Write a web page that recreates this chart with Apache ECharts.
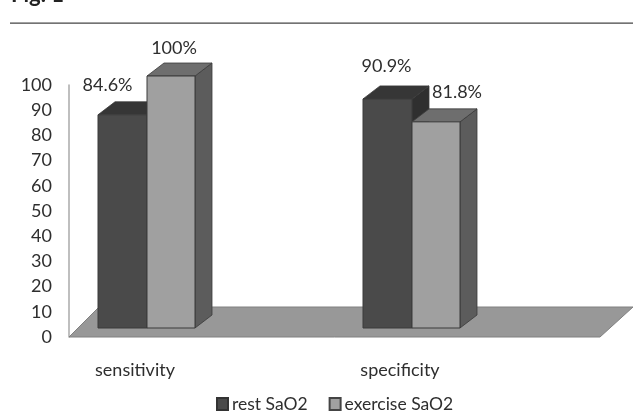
<!DOCTYPE html>
<html><head><meta charset="utf-8">
<style>html,body{margin:0;padding:0;background:#fff}#c{width:633px;height:411px;filter:blur(0.45px)}</style>
<script src="https://cdn.jsdelivr.net/npm/echarts@6/dist/echarts.min.js"></script>
</head><body><div id="c"></div>
<script>
const categories = ['sensitivity', 'specificity'];
const restSaO2 = [84.6, 90.9];
const exerciseSaO2 = [100, 81.8];
const yTicks = [0, 10, 20, 30, 40, 50, 60, 70, 80, 90, 100];
const seriesNames = ['rest SaO2', 'exercise SaO2'];
const restLabelShift = [[-15, -30], [-1, -33]];
const exerciseLabelShift = [[3, -28], [21, -30]];

const FONT = 'Lato, "Open Sans", sans-serif';
const TEXT = '#2e2e2e';
const DX = 17, DY = -13, LIFT = 9;

function barRenderer(x0, x1, front, top, side, shifts) {
  return function (params, api) {
    const i = api.value(0);
    const p = api.coord([i, api.value(1)]);
    const base = api.coord([i, 0]);
    const l = p[0] + x0, r = p[0] + x1, t = p[1] - LIFT, b = base[1] - LIFT;
    const s = shifts[params.dataIndex];
    const stroke = '#3a3a3a';
    return {
      type: 'group',
      children: [
        { type: 'polygon', shape: { points: [[r, t], [r + DX, t + DY], [r + DX, b + DY], [r, b]] },
          style: { fill: side, stroke: stroke, lineWidth: 0.8 } },
        { type: 'polygon', shape: { points: [[l, t], [l + DX, t + DY], [r + DX, t + DY], [r, t]] },
          style: { fill: top, stroke: stroke, lineWidth: 0.8 } },
        { type: 'rect', shape: { x: l, y: t, width: r - l, height: b - t },
          style: { fill: front, stroke: stroke, lineWidth: 1 } },
        { type: 'text', x: (l + r) / 2 + s[0], y: t + s[1],
          style: { text: api.value(1) + '%', fill: TEXT, font: '18px ' + FONT, align: 'center', verticalAlign: 'middle' } }
      ]
    };
  };
}

const chart = echarts.init(document.getElementById('c'), null, { renderer: 'canvas' });
chart.setOption({
  animation: false,
  backgroundColor: '#fff',
  textStyle: { fontFamily: FONT },
  grid: { left: 2.5, top: 85, width: 530, height: 252 },
  xAxis: {
    type: 'category', data: categories,
    axisLine: { show: false }, axisTick: { show: false },
    axisLabel: { color: TEXT, fontSize: 18, fontFamily: FONT, margin: 24 }
  },
  yAxis: {
    type: 'value', min: yTicks[0], max: yTicks[yTicks.length - 1], interval: yTicks[1] - yTicks[0],
    offset: -66.5,
    splitLine: { show: false }, axisTick: { show: false },
    axisLine: { show: true, lineStyle: { color: '#aaa', width: 1.5 } },
    axisLabel: { color: TEXT, fontSize: 18, fontFamily: FONT, margin: 17, align: 'right' }
  },
  legend: {
    data: seriesNames, left: 211, top: 390, icon: 'rect', itemWidth: 11, itemHeight: 12, itemGap: 21,
    textStyle: { color: TEXT, fontSize: 17.5, fontFamily: FONT, padding: [0, 0, 0, -1] }
  },
  graphic: [
    { type: 'text', left: 11, top: -16, style: { text: 'Fig. 1', fill: '#222', font: 'bold 22px ' + FONT } },
    { type: 'rect', shape: { x: 10, y: 22.5, width: 623, height: 1.2 }, style: { fill: '#444' } }
  ],
  series: [
    { type: 'custom', silent: true, z: 1, clip: false, data: [[0]],
      encode: { x: 0 }, legendHoverLink: false,
      renderItem: function (params, api) {
        const cs = params.coordSys;
        const y = api.coord([0, 0])[1], x = cs.x + 66.5, w = 531, dx = 30, dy = -30;
        return { type: 'polygon', shape: { points: [[x, y], [x + dx, y + dy], [x + w + 33, y + dy], [x + w, y]] },
          style: { fill: '#989898', stroke: '#808080', lineWidth: 1 } };
      } },
    { type: 'custom', name: seriesNames[0], z: 2, clip: false, itemStyle: { color: '#4a4a4a', borderColor: '#333', borderWidth: 1 },
      encode: { x: 0, y: 1 },
      data: restSaO2.map((v, i) => [i, v]),
      renderItem: barRenderer(-37, 12, '#4a4a4a', '#363636', '#2f2f2f', restLabelShift) },
    { type: 'custom', name: seriesNames[1], z: 3, clip: false, itemStyle: { color: '#a0a0a0', borderColor: '#444', borderWidth: 1 },
      encode: { x: 0, y: 1 },
      data: exerciseSaO2.map((v, i) => [i, v]),
      renderItem: barRenderer(12, 60, '#a0a0a0', '#6e6e6e', '#5c5c5c', exerciseLabelShift) }
  ]
});
</script></body></html>
